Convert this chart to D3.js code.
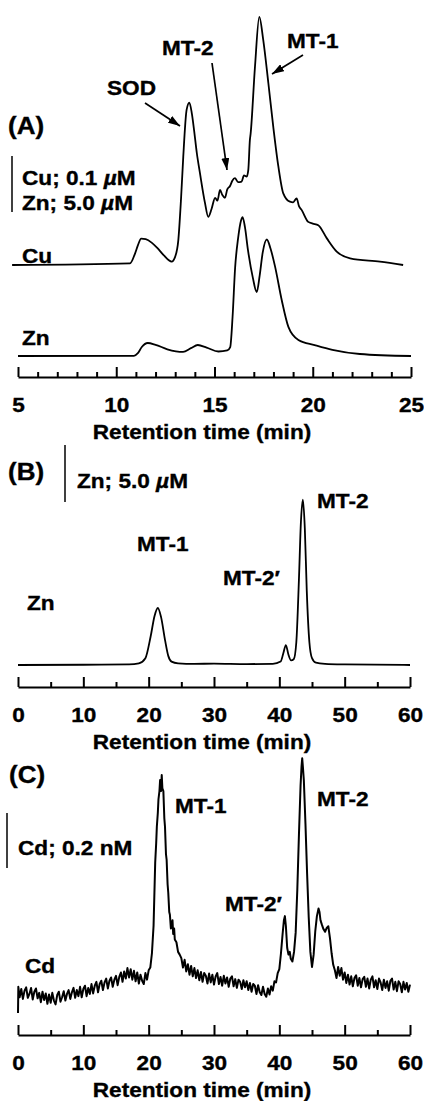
<!DOCTYPE html>
<html><head><meta charset="utf-8">
<script src="https://cdn.jsdelivr.net/npm/d3@7"></script>
<style>
body{margin:0;background:#fff}
text{font-family:"Liberation Sans",Arial,Helvetica,sans-serif;font-weight:bold;fill:#000;stroke:#000;stroke-width:0.35px}
</style></head><body>
<svg id="chart" width="424" height="1101"></svg>
<script>
// ---------- DATA ----------
// Panel A: Cu trace (µM) and Zn trace (µM) vs retention time (min)
const cuA = [[4.7,0],[10.7,0.003],[10.95,0.02],[11.1,0.035],[11.27,0.047],[11.5,0.046],[11.8,0.040],[12.1,0.03],[12.4,0.018],[12.82,0.006],[13.0,0.015],[13.16,0.045],[13.3,0.12],[13.41,0.193],[13.58,0.277],[13.72,0.290],[13.85,0.27],[13.96,0.241],[14.1,0.2],[14.26,0.164],[14.52,0.11],[14.68,0.086],[14.85,0.1],[15.03,0.12],[15.15,0.115],[15.28,0.134],[15.4,0.125],[15.53,0.12],[15.65,0.135],[15.79,0.141],[15.9,0.15],[16.04,0.155],[16.2,0.148],[16.38,0.149],[16.5,0.16],[16.64,0.158],[16.72,0.17],[16.8,0.223],[16.84,0.235],[17.06,0.354],[17.28,0.443],[17.48,0.402],[17.74,0.325],[17.99,0.247],[18.25,0.176],[18.5,0.128],[18.84,0.113],[19.0,0.112],[19.18,0.119],[19.3,0.105],[19.44,0.098],[19.77,0.077],[20.0,0.074],[20.28,0.071],[20.71,0.048],[21.22,0.024],[21.9,0.012],[23.42,0.006],[24.6,0.0]];
const znA = [[5,0],[10.9,0.02],[11.1,0.25],[11.3,0.8],[11.6,1.16],[12.0,1.0],[12.6,0.6],[13.4,0.36],[13.8,0.7],[14.15,0.98],[14.6,0.75],[15.2,0.4],[15.65,0.5],[15.8,0.8],[15.92,3.5],[16.05,7.9],[16.2,10.5],[16.35,12.1],[16.43,12.4],[16.55,11.5],[16.7,9.5],[16.95,7.0],[17.15,5.7],[17.3,7.2],[17.45,9.2],[17.66,10.4],[17.85,9.6],[18.08,8.0],[18.42,5.0],[18.76,2.6],[19.27,1.43],[20.1,0.98],[21.0,0.55],[22.4,0.18],[25,0.0]];
// Panel B: Zn trace (µM)
const znB = [[0,0],[10,0.02],[17,0.05],[18.5,0.15],[19.5,0.6],[20.3,2.5],[20.9,4.3],[21.4,5.0],[21.9,4.2],[22.5,2.2],[23.0,0.8],[23.5,0.3],[24.5,0.15],[27,0.1],[30,0.12],[35,0.08],[39,0.1],[40.2,0.3],[40.6,1.0],[41.0,1.75],[41.4,0.9],[41.8,0.4],[42.2,0.5],[42.6,2.0],[43.0,7.5],[43.3,12.5],[43.6,14.5],[43.9,12],[44.2,6.5],[44.6,2.0],[45.0,0.6],[45.6,0.2],[47,0.1],[50,0.05],[60,0]];
// Panel C: Cd trace (nM), read point by point including the detector noise
const cdC = [[0,-0.047],[0.05,0.048],[0.25,0.010],[0.5,0.040],[0.75,0.004],[1,0.034],[1.25,0.046],[1.5,0.008],[1.75,0.022],[2,0.044],[2.25,0.002],[2.5,0.030],[2.75,0.042],[3,0.006],[3.25,0.026],[3.5,-0.008],[3.75,0.030],[4,0.000],[4.25,0.024],[4.5,-0.014],[4.75,0.020],[5,-0.010],[5.25,0.026],[5.5,-0.002],[5.75,-0.016],[6,0.018],[6.25,0.030],[6.5,-0.006],[6.75,0.010],[7,0.032],[7.25,-0.002],[7.5,0.022],[7.75,0.036],[8,0.004],[8.25,0.028],[8.5,0.044],[8.75,0.008],[9,0.036],[9.25,0.014],[9.5,0.048],[9.75,0.010],[10,0.040],[10.25,0.052],[10.5,0.014],[10.75,0.044],[11,0.022],[11.25,0.058],[11.5,0.024],[11.75,0.052],[12,0.066],[12.25,0.028],[12.5,0.058],[12.75,0.070],[13,0.036],[13.25,0.064],[13.5,0.078],[13.75,0.042],[14,0.070],[14.25,0.082],[14.5,0.048],[14.75,0.074],[15,0.088],[15.25,0.054],[15.5,0.084],[15.75,0.100],[16,0.066],[16.25,0.104],[16.5,0.078],[16.75,0.116],[17,0.082],[17.25,0.112],[17.5,0.074],[17.75,0.106],[18,0.068],[18.25,0.100],[18.5,0.060],[18.75,0.092],[19,0.070],[19.25,0.058],[19.5,0.098],[19.75,0.074],[20,0.108],[20.25,0.118],[20.5,0.170],[20.75,0.27],[21,0.50],[21.15,0.57],[21.25,0.63],[21.4,0.68],[21.5,0.73],[21.65,0.76],[21.75,0.80],[21.9,0.76],[22,0.818],[22.1,0.77],[22.25,0.76],[22.4,0.66],[22.5,0.63],[22.65,0.53],[22.75,0.51],[22.9,0.42],[23,0.39],[23.15,0.32],[23.25,0.31],[23.4,0.26],[23.5,0.27],[23.65,0.29],[23.75,0.24],[23.9,0.26],[24,0.22],[24.25,0.21],[24.5,0.175],[24.75,0.165],[25,0.152],[25.25,0.118],[25.5,0.146],[25.75,0.104],[26,0.130],[26.25,0.092],[26.5,0.124],[26.75,0.086],[27,0.116],[27.25,0.080],[27.5,0.108],[27.75,0.072],[28,0.102],[28.25,0.066],[28.5,0.098],[28.75,0.088],[29,0.060],[29.25,0.096],[29.5,0.064],[29.75,0.092],[30,0.056],[30.25,0.086],[30.5,0.098],[30.75,0.058],[31,0.084],[31.25,0.052],[31.5,0.088],[31.75,0.060],[32,0.082],[32.25,0.048],[32.5,0.078],[32.75,0.086],[33,0.050],[33.25,0.076],[33.5,0.044],[33.75,0.074],[34,0.066],[34.25,0.040],[34.5,0.072],[34.75,0.046],[35,0.068],[35.25,0.036],[35.5,0.062],[35.75,0.030],[36,0.058],[36.25,0.052],[36.5,0.022],[36.75,0.054],[37,0.028],[37.25,0.018],[37.5,0.048],[37.75,0.022],[38,0.012],[38.25,0.042],[38.5,0.020],[38.75,0.050],[39,0.034],[39.25,0.068],[39.5,0.064],[39.75,0.098],[40,0.112],[40.25,0.170],[40.5,0.240],[40.7,0.290],[40.85,0.305],[41,0.270],[41.2,0.190],[41.4,0.165],[41.6,0.175],[41.75,0.150],[42,0.140],[42.25,0.175],[42.5,0.245],[42.75,0.400],[43,0.600],[43.25,0.780],[43.4,0.850],[43.5,0.879],[43.6,0.850],[43.75,0.800],[44,0.640],[44.25,0.460],[44.5,0.300],[44.75,0.175],[45,0.120],[45.25,0.165],[45.5,0.250],[45.75,0.305],[46,0.333],[46.15,0.320],[46.3,0.290],[46.5,0.275],[46.75,0.258],[47,0.248],[47.25,0.262],[47.5,0.268],[47.75,0.225],[48,0.170],[48.25,0.128],[48.5,0.108],[48.75,0.080],[49,0.120],[49.25,0.088],[49.5,0.116],[49.75,0.074],[50,0.100],[50.25,0.062],[50.5,0.092],[50.75,0.056],[51,0.086],[51.25,0.050],[51.5,0.080],[51.75,0.090],[52,0.052],[52.25,0.080],[52.5,0.046],[52.75,0.076],[53,0.084],[53.25,0.048],[53.5,0.078],[53.75,0.042],[54,0.074],[54.25,0.086],[54.5,0.046],[54.75,0.072],[55,0.040],[55.25,0.078],[55.5,0.064],[55.75,0.036],[56,0.074],[56.25,0.044],[56.5,0.068],[56.75,0.034],[57,0.070],[57.25,0.078],[57.5,0.038],[57.75,0.066],[58,0.032],[58.25,0.068],[58.5,0.058],[58.75,0.028],[59,0.066],[59.25,0.038],[59.5,0.062],[59.75,0.030],[60,0.056]];

// Ticks
const ticksAMajor = [5,10,15,20,25];
const ticksAMinor = [6,7,8,9,11,12,13,14,16,17,18,19,21,22,23,24];
const ticksBMajor = [0,10,20,30,40,50,60];
const ticksBMinor = [5,15,25,35,45,55];
const axisTitle = "Retention time (min)";

// ---------- DRAW ----------
const svg = d3.select("#chart");
const defs = svg.append("defs");
defs.append("marker").attr("id","arr").attr("viewBox","0 0 12 8").attr("refX",12).attr("refY",4)
  .attr("markerWidth",12).attr("markerHeight",8).attr("markerUnits","userSpaceOnUse").attr("orient","auto")
  .append("path").attr("d","M0,0L12,4L0,8Z").attr("fill","#000");

function txt(x, y, s, size, anchor) {
  return svg.append("text").attr("x", x).attr("y", y).attr("font-size", size)
    .attr("text-anchor", anchor || "start").text(s);
}
function unitTxt(x, y, pre, size) {
  const t = svg.append("text").attr("x", x).attr("y", y).attr("font-size", size);
  t.append("tspan").text(pre);
  t.append("tspan").attr("font-style","italic").text("\u00b5");
  t.append("tspan").text("M");
  return t;
}
function vbar(x, y1, y2) {
  svg.append("line").attr("x1",x).attr("x2",x).attr("y1",y1).attr("y2",y2)
    .attr("stroke","#000").attr("stroke-width",1.5);
}
function arrow(x1,y1,x2,y2){
  svg.append("line").attr("x1",x1).attr("y1",y1).attr("x2",x2).attr("y2",y2)
    .attr("stroke","#000").attr("stroke-width",1.7).attr("marker-end","url(#arr)");
}
function trace(data, x, y, w, curve) {
  svg.append("path").datum(data)
    .attr("d", d3.line().x(d => x(d[0])).y(d => y(d[1])).curve(curve || d3.curveMonotoneX))
    .attr("fill","none").attr("stroke","#000").attr("stroke-width", w || 1.6)
    .attr("stroke-linejoin","round");
}
function axis(x, y0, major, minor) {
  const g = svg.append("g").attr("transform", `translate(0,${y0})`);
  g.call(d3.axisBottom(x).tickValues(major).tickSizeInner(-10).tickSizeOuter(0).tickFormat(d3.format("d")));
  g.select(".domain").attr("stroke-width", 2);
  g.selectAll(".tick line").attr("stroke-width", 2);
  g.selectAll(".tick text").attr("y", 35).attr("dy", 0).attr("font-size", 20)
    .attr("font-family", '"Liberation Sans",Arial,sans-serif').attr("font-weight","bold").attr("fill","#000");
  const gm = svg.append("g").attr("transform", `translate(0,${y0})`);
  gm.call(d3.axisBottom(x).tickValues(minor).tickSizeInner(-5).tickSizeOuter(0).tickFormat(""));
  gm.select(".domain").remove();
  gm.selectAll(".tick line").attr("stroke-width", 2);
  txt(202, y0 + 62, axisTitle, 20, "middle");
}

// Panel A
const xA = d3.scaleLinear().domain([5, 25]).range([18, 411]);
const yCu = d3.scaleLinear().domain([0, 0.1]).range([265, 209]);
const yZnA = d3.scaleLinear().domain([0, 5]).range([356, 300]);
trace(cuA, xA, yCu, 1.8);
trace(znA, xA, yZnA, 1.8);
axis(xA, 377, ticksAMajor, ticksAMinor);
txt(8, 134, "(A)", 23);
vbar(12, 156, 156 + (yCu(0) - yCu(0.1)));
unitTxt(22, 185, "Cu; 0.1 ", 20);
unitTxt(22, 210, "Zn; 5.0 ", 20);
txt(22, 263, "Cu", 20);
txt(22, 345, "Zn", 20);
txt(107, 95, "SOD", 20);
txt(162, 55, "MT-2", 20);
txt(287, 48, "MT-1", 20);
arrow(145, 103, 180, 126);
arrow(212, 63, 227, 170);
arrow(303, 55, 272, 74);

// Panel B
const xB = d3.scaleLinear().domain([0, 60]).range([18, 410]);
const yZnB = d3.scaleLinear().domain([0, 5]).range([665, 608]);
trace(znB, xB, yZnB, 1.8);
axis(xB, 687, ticksBMajor, ticksBMinor);
txt(8, 480, "(B)", 23);
vbar(65, 445, 445 + (yZnB(0) - yZnB(5)));
unitTxt(77, 488, "Zn; 5.0 ", 20);
txt(27, 610, "Zn", 20);
txt(137, 551, "MT-1", 20);
txt(223, 585, "MT-2\u2032", 20);
txt(317, 508, "MT-2", 20);

// Panel C
const xC = d3.scaleLinear().domain([0, 60]).range([18, 410]);
const yCd = d3.scaleLinear().domain([0, 0.2]).range([1000, 945]);
trace(cdC, xC, yCd, 2.0, d3.curveLinear);
axis(xC, 1035, ticksBMajor, ticksBMinor);
txt(9, 783, "(C)", 23);
vbar(7, 813, 813 + (yCd(0) - yCd(0.2)));
txt(18, 855, "Cd; 0.2 nM", 20);
txt(25, 973, "Cd", 20);
txt(175, 813, "MT-1", 20);
txt(225, 911, "MT-2\u2032", 20);
txt(317, 806, "MT-2", 20);

// widen the bold glyphs to match the reference's broad sans face
svg.selectAll("text").each(function () {
  const w = this.getComputedTextLength();
  if (w > 0) d3.select(this).attr("textLength", w * 1.13).attr("lengthAdjust", "spacingAndGlyphs");
});
</script></body></html>
